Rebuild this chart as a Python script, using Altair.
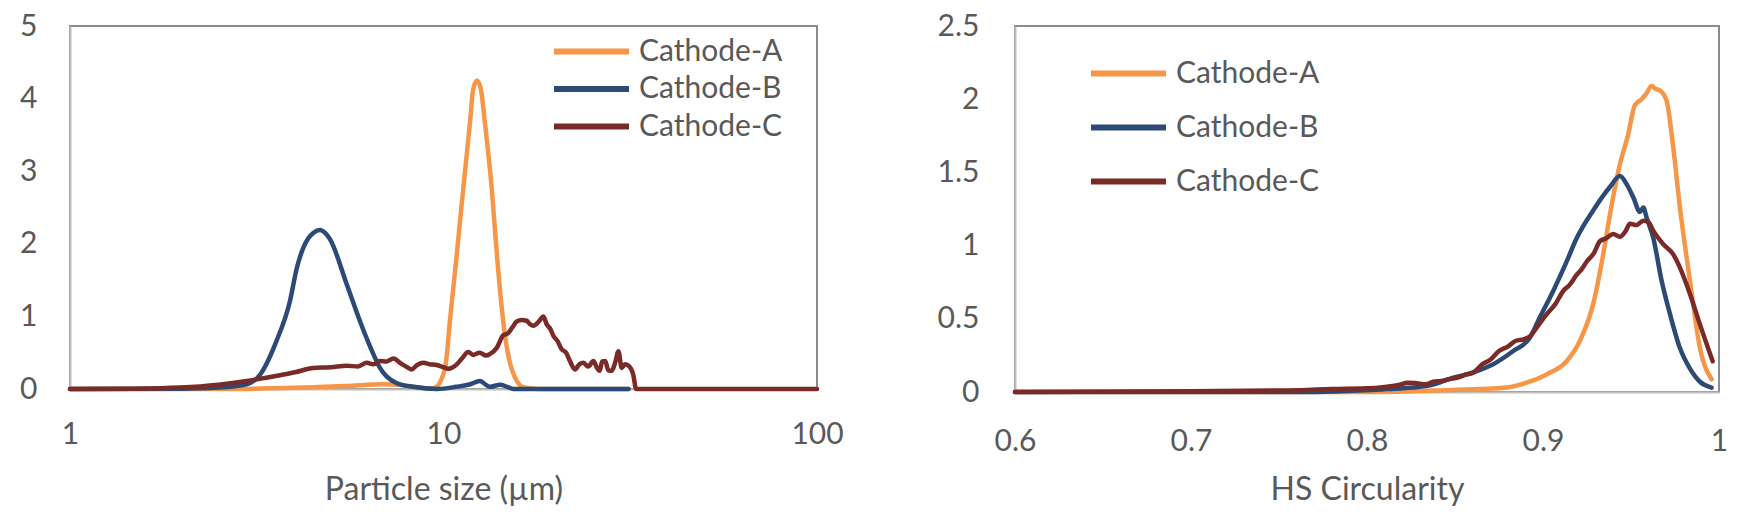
import altair as alt
import pandas as pd

SERIES = ["Cathode-A", "Cathode-B", "Cathode-C"]
COLORS = ["#F79646", "#2B4B76", "#7A2A27"]
TEXT = "#595959"
FONT = "Lato"

# ---- Left panel: particle size distribution (x in µm, log axis) ----
psd_a_x = [1, 2.6, 3.5, 4.5, 5.5, 6.9, 7.8, 8.6, 9.2, 9.49, 10.1, 10.4, 10.85, 11.3, 11.78,
           12.0, 12.3, 12.6, 12.9, 13.46, 13.9, 14.45, 15.2, 16.4, 18, 31.3]
psd_a_y = [0, 0, 0.01, 0.025, 0.04, 0.065, 0.05, 0.02, 0.01, 0.02, 0.29, 0.93, 1.85, 2.77, 3.68,
           4.12, 4.25, 4.12, 3.68, 2.77, 1.85, 0.93, 0.29, 0.02, 0, 0]

psd_b_x = [1, 2, 2.5, 2.97, 3.23, 3.57, 3.88, 4.05, 4.21, 4.35, 4.48, 4.67, 4.82, 4.97, 5.51,
           5.98, 6.49, 6.76, 7.05, 7.5, 8.3, 9.6, 10.8, 11.8, 12.5, 13.3, 14.2, 14.8, 15.4, 31.3]
psd_b_y = [0, 0.005, 0.02, 0.065, 0.2, 0.66, 1.21, 1.67, 1.94, 2.08, 2.15, 2.19, 2.15, 2.06, 1.44,
           0.93, 0.48, 0.29, 0.17, 0.08, 0.03, 0, 0.03, 0.065, 0.11, 0.03, 0.06, 0.03, 0, 0]

psd_c_x = [1, 1.5, 1.97, 2.5, 2.97, 3.3, 3.65, 4.0, 4.48, 5.0, 5.51, 5.9, 6.23, 6.5, 6.76, 7.05,
           7.34, 7.7, 8.0, 8.22, 8.5, 8.83, 9.2, 9.59, 10.0, 10.3, 10.85, 11.2, 11.65, 12.0, 12.5,
           13.0, 13.3, 13.9, 14.45, 14.9, 15.3, 15.7, 16.2, 16.7, 17.0, 17.4, 18.0, 18.5, 18.9,
           19.3, 19.7, 20.2, 20.7, 21.3, 21.8, 22.5, 23.1, 23.7, 24.4, 25.2, 25.7, 26.2, 26.6,
           27.1, 27.6, 28.2, 28.8, 29.4, 30.0, 30.6, 31.3, 32.2, 32.8, 100]
psd_c_y = [0, 0.005, 0.02, 0.06, 0.11, 0.15, 0.19, 0.23, 0.29, 0.30, 0.32, 0.31, 0.36, 0.34, 0.385,
           0.38, 0.42, 0.35, 0.30, 0.27, 0.33, 0.36, 0.34, 0.33, 0.30, 0.28, 0.34, 0.42, 0.51, 0.47,
           0.50, 0.46, 0.48, 0.57, 0.74, 0.77, 0.85, 0.93, 0.95, 0.94, 0.90, 0.87, 0.93, 1.0, 0.89,
           0.83, 0.73, 0.66, 0.55, 0.50, 0.385, 0.27, 0.34, 0.36, 0.31, 0.385, 0.30, 0.25, 0.38,
           0.385, 0.26, 0.25, 0.36, 0.52, 0.29, 0.34, 0.32, 0.20, 0, 0]

# ---- Right panel: HS circularity distribution ----
circ_a_x = [0.6, 0.8088, 0.8376, 0.8641, 0.8793, 0.8907, 0.9020, 0.9134, 0.9210, 0.9285, 0.9342,
            0.9380, 0.9437, 0.9484, 0.9522, 0.9560, 0.9588, 0.9617, 0.9640, 0.9664, 0.9702, 0.9740,
            0.9778, 0.9835, 0.9892, 0.9958]
circ_a_y = [0, 0, 0.01, 0.02, 0.03, 0.064, 0.12, 0.21, 0.35, 0.60, 0.94,
            1.21, 1.555, 1.76, 1.96, 2.00, 2.04, 2.09, 2.07, 2.06, 1.99, 1.67,
            1.26, 0.76, 0.30, 0.087]

circ_b_x = [0.6, 0.7618, 0.8111, 0.8262, 0.8376, 0.8470, 0.8565, 0.8640, 0.8717, 0.8831, 0.8925,
            0.8982, 0.9058, 0.9134, 0.9191, 0.9285, 0.9380, 0.9437, 0.9475, 0.9513, 0.9551, 0.9570,
            0.9589, 0.9627, 0.9674, 0.9722, 0.9778, 0.9835, 0.9892, 0.9958]
circ_b_y = [0, 0, 0.02, 0.03, 0.05, 0.09, 0.12, 0.15, 0.19, 0.28, 0.37,
            0.51, 0.69, 0.89, 1.05, 1.24, 1.40, 1.475, 1.42, 1.33, 1.23, 1.26,
            1.19, 1.05, 0.76, 0.53, 0.30, 0.16, 0.07, 0.03]

circ_c_x = [0.6, 0.7, 0.75, 0.7618, 0.78, 0.7997, 0.81, 0.8186, 0.823, 0.8281, 0.8334, 0.8376,
            0.8420, 0.8465, 0.8520, 0.8565, 0.8600, 0.8656, 0.8700, 0.8750, 0.8800, 0.8846, 0.8890,
            0.8925, 0.8970, 0.9020, 0.9070, 0.9115, 0.9150, 0.9191, 0.9220, 0.9248, 0.9290, 0.9323,
            0.9360, 0.9399, 0.9437, 0.9470, 0.9494, 0.9530, 0.9570, 0.9600, 0.9627, 0.9683, 0.9740,
            0.9778, 0.9835, 0.9892, 0.9964]
circ_c_y = [0, 0.005, 0.01, 0.012, 0.02, 0.025, 0.035, 0.05, 0.064, 0.06, 0.053, 0.07,
            0.075, 0.087, 0.10, 0.12, 0.13, 0.19, 0.22, 0.28, 0.31, 0.35, 0.36,
            0.38, 0.45, 0.53, 0.60, 0.69, 0.73, 0.80, 0.84, 0.89, 0.95, 1.03,
            1.05, 1.08, 1.06, 1.10, 1.15, 1.14, 1.17, 1.16, 1.10, 1.01, 0.94,
            0.85, 0.67, 0.46, 0.21]


def frame(xs_list, ys_list):
    rows = []
    for name, xs, ys in zip(SERIES, xs_list, ys_list):
        for i, (x, y) in enumerate(zip(xs, ys)):
            rows.append({"series": name, "x": x, "y": y, "order": i})
    return pd.DataFrame(rows)


psd = frame([psd_a_x, psd_b_x, psd_c_x], [psd_a_y, psd_b_y, psd_c_y])
circ = frame([circ_a_x, circ_b_x, circ_c_x], [circ_a_y, circ_b_y, circ_c_y])


def legend(lx, ly, clip_h, row_pad):
    return alt.Legend(title=None, orient="none", legendX=lx, legendY=ly,
                      symbolType="stroke", symbolSize=5625, symbolStrokeWidth=6,
                      labelFontSize=30, labelFont=FONT, labelColor=TEXT,
                      clipHeight=clip_h, rowPadding=row_pad, labelOffset=7, padding=0)


line = dict(strokeWidth=4.5, interpolate="monotone", strokeCap="round", strokeJoin="round")

left = alt.Chart(psd).mark_line(**line).encode(
    x=alt.X("x:Q", scale=alt.Scale(type="log", domain=[1, 100]),
            axis=alt.Axis(values=[1, 10, 100], format="~g", title="Particle size (µm)",
                          labelPadding=30, titlePadding=25, labelFlush=False)),
    y=alt.Y("y:Q", scale=alt.Scale(domain=[0, 5], nice=False),
            axis=alt.Axis(values=[0, 1, 2, 3, 4, 5], format="~g", title=None, labelPadding=33,
                          labelFlush=False)),
    color=alt.Color("series:N", scale=alt.Scale(domain=SERIES, range=COLORS),
                    legend=legend(481, 7, 37, 0.5)),
    order="order:Q",
).properties(width=747, height=363)

right = alt.Chart(circ).mark_line(**line).encode(
    x=alt.X("x:Q", scale=alt.Scale(domain=[0.6, 1.0], nice=False),
            axis=alt.Axis(values=[0.6, 0.7, 0.8, 0.9, 1.0], format="~g", title="HS Circularity",
                          labelPadding=34, titlePadding=18, labelFlush=False)),
    y=alt.Y("y:Q", scale=alt.Scale(domain=[0, 2.5], nice=False),
            axis=alt.Axis(values=[0, 0.5, 1, 1.5, 2, 2.5], format="~g", title=None, labelPadding=36,
                          labelFlush=False)),
    color=alt.Color("series:N", scale=alt.Scale(domain=SERIES, range=COLORS),
                    legend=legend(73, 28.5, 38, 16)),
    order="order:Q",
).properties(width=704, height=366)

chart = alt.hconcat(left, right, spacing=198, bounds="flush").resolve_scale(
    color="independent").resolve_legend(color="independent").properties(
    padding={"left": 18, "top": 10, "right": 5, "bottom": 5}
).configure_view(stroke="#8C8C8C", strokeWidth=2).configure_axis(
    labelFont=FONT, titleFont=FONT, labelColor=TEXT, titleColor=TEXT,
    labelFontSize=30, titleFontSize=32, titleFontWeight="normal",
    ticks=False, tickSize=0, grid=False, domainColor="#BFBFBF", domainWidth=2,
)

chart.save("out.html", embed_options={"renderer": "svg", "actions": False})
